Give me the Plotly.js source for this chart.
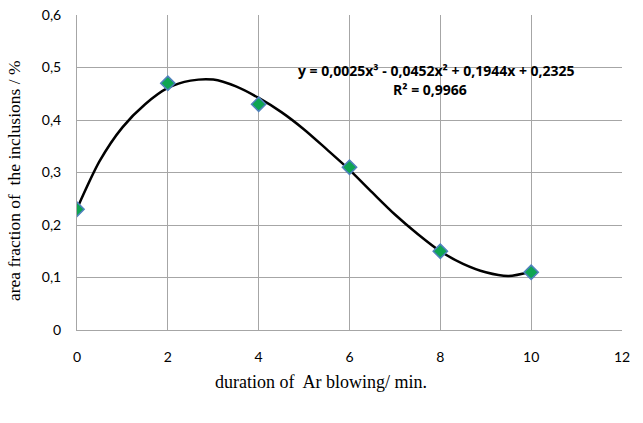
<!DOCTYPE html>
<html><head><meta charset="utf-8">
<script src="https://cdn.plot.ly/plotly-3.0.1.min.js"></script>
<style>html,body{margin:0;padding:0;background:#fff}</style>
</head><body>
<div id="chart" style="width:643px;height:423px"></div>
<script>
const durationMin = [0, 2, 4, 6, 8, 10];
const areaFraction = [0.23, 0.47, 0.43, 0.31, 0.15, 0.11];
// trendline
const trendX = [0, 0.5, 1, 1.5, 2, 2.5, 3, 3.5, 4, 4.5, 5, 5.5, 6, 6.5, 7, 7.5, 8, 8.5, 9, 9.5, 10];
const trendY = [0.231, 0.322, 0.386, 0.43, 0.461, 0.475, 0.477, 0.464, 0.442, 0.415, 0.382, 0.344, 0.305, 0.262, 0.22, 0.183, 0.15, 0.126, 0.11, 0.103, 0.111];
const equationLine = 'y = 0,0025x³ - 0,0452x² + 0,1944x + 0,2325';
const rSquaredLine = 'R² = 0,9966';
const xTitle = 'duration of  Ar blowing/ min.';
const yTitle = 'area fraction of  the inclusions / %';

const serif = '"Liberation Serif", "Times New Roman", serif';
const sans = 'Lato, "Open Sans", sans-serif';

const traces = [
  {x: trendX, y: trendY, mode: 'lines', line: {color: '#000000', width: 2.5, shape: 'spline', smoothing: 0.8}, hoverinfo: 'skip', showlegend: false},
  {x: durationMin, y: areaFraction, mode: 'markers', showlegend: false,
   marker: {symbol: 'diamond', size: 11, color: '#0ea552', line: {color: '#4f81bd', width: 1.5}}}
];
const layout = {
  width: 643, height: 423,
  margin: {l: 77, r: 21, t: 15, b: 93},
  paper_bgcolor: '#ffffff', plot_bgcolor: '#ffffff',
  separators: ', ',
  showlegend: false,
  xaxis: {range: [0, 12], dtick: 2, tick0: 0, showgrid: true, gridcolor: '#a6a6a6', gridwidth: 1,
          showline: true, linecolor: '#a6a6a6', zeroline: false, ticks: '', ticklabelstandoff: 14,
          tickfont: {family: sans, size: 14, color: '#000'}},
  yaxis: {range: [0, 0.6], dtick: 0.1, tick0: 0, showgrid: true, gridcolor: '#a6a6a6', gridwidth: 1,
          showline: true, linecolor: '#a6a6a6', zeroline: false, ticks: '', ticklabelstandoff: 12,
          tickfont: {family: sans, size: 14, color: '#000'}},
  annotations: [
    {x: 436, y: 70, xref: 'paper', yref: 'paper', text: '<b>' + equationLine + '</b>', showarrow: false,
     xanchor: 'center', yanchor: 'middle', borderpad: 0,
     font: {family: '"Open Sans", sans-serif', size: 14, color: '#000'}},
    {x: 430, y: 89, xref: 'paper', yref: 'paper', text: '<b>' + rSquaredLine + '</b>', showarrow: false,
     xanchor: 'center', yanchor: 'middle', borderpad: 0,
     font: {family: '"Open Sans", sans-serif', size: 14, color: '#000'}},
    {x: 321, y: 382, xref: 'paper', yref: 'paper', text: xTitle, showarrow: false,
     xanchor: 'center', yanchor: 'middle', font: {family: serif, size: 18, color: '#000'}},
    {x: 14, y: 181, xref: 'paper', yref: 'paper', text: yTitle, showarrow: false, textangle: -90,
     xanchor: 'center', yanchor: 'middle', font: {family: serif, size: 17.5, color: '#000'}}
  ]
};
// convert pixel positions for paper-anchored annotations
const plotW = layout.width - layout.margin.l - layout.margin.r;
const plotH = layout.height - layout.margin.t - layout.margin.b;
layout.annotations.forEach(a => {
  if (a.xref === 'paper') {
    a.x = (a.x - layout.margin.l) / plotW;
    a.y = 1 - (a.y - layout.margin.t) / plotH;
  }
});
Plotly.newPlot('chart', traces, layout, {displayModeBar: false, staticPlot: true});
</script>
</body></html>
